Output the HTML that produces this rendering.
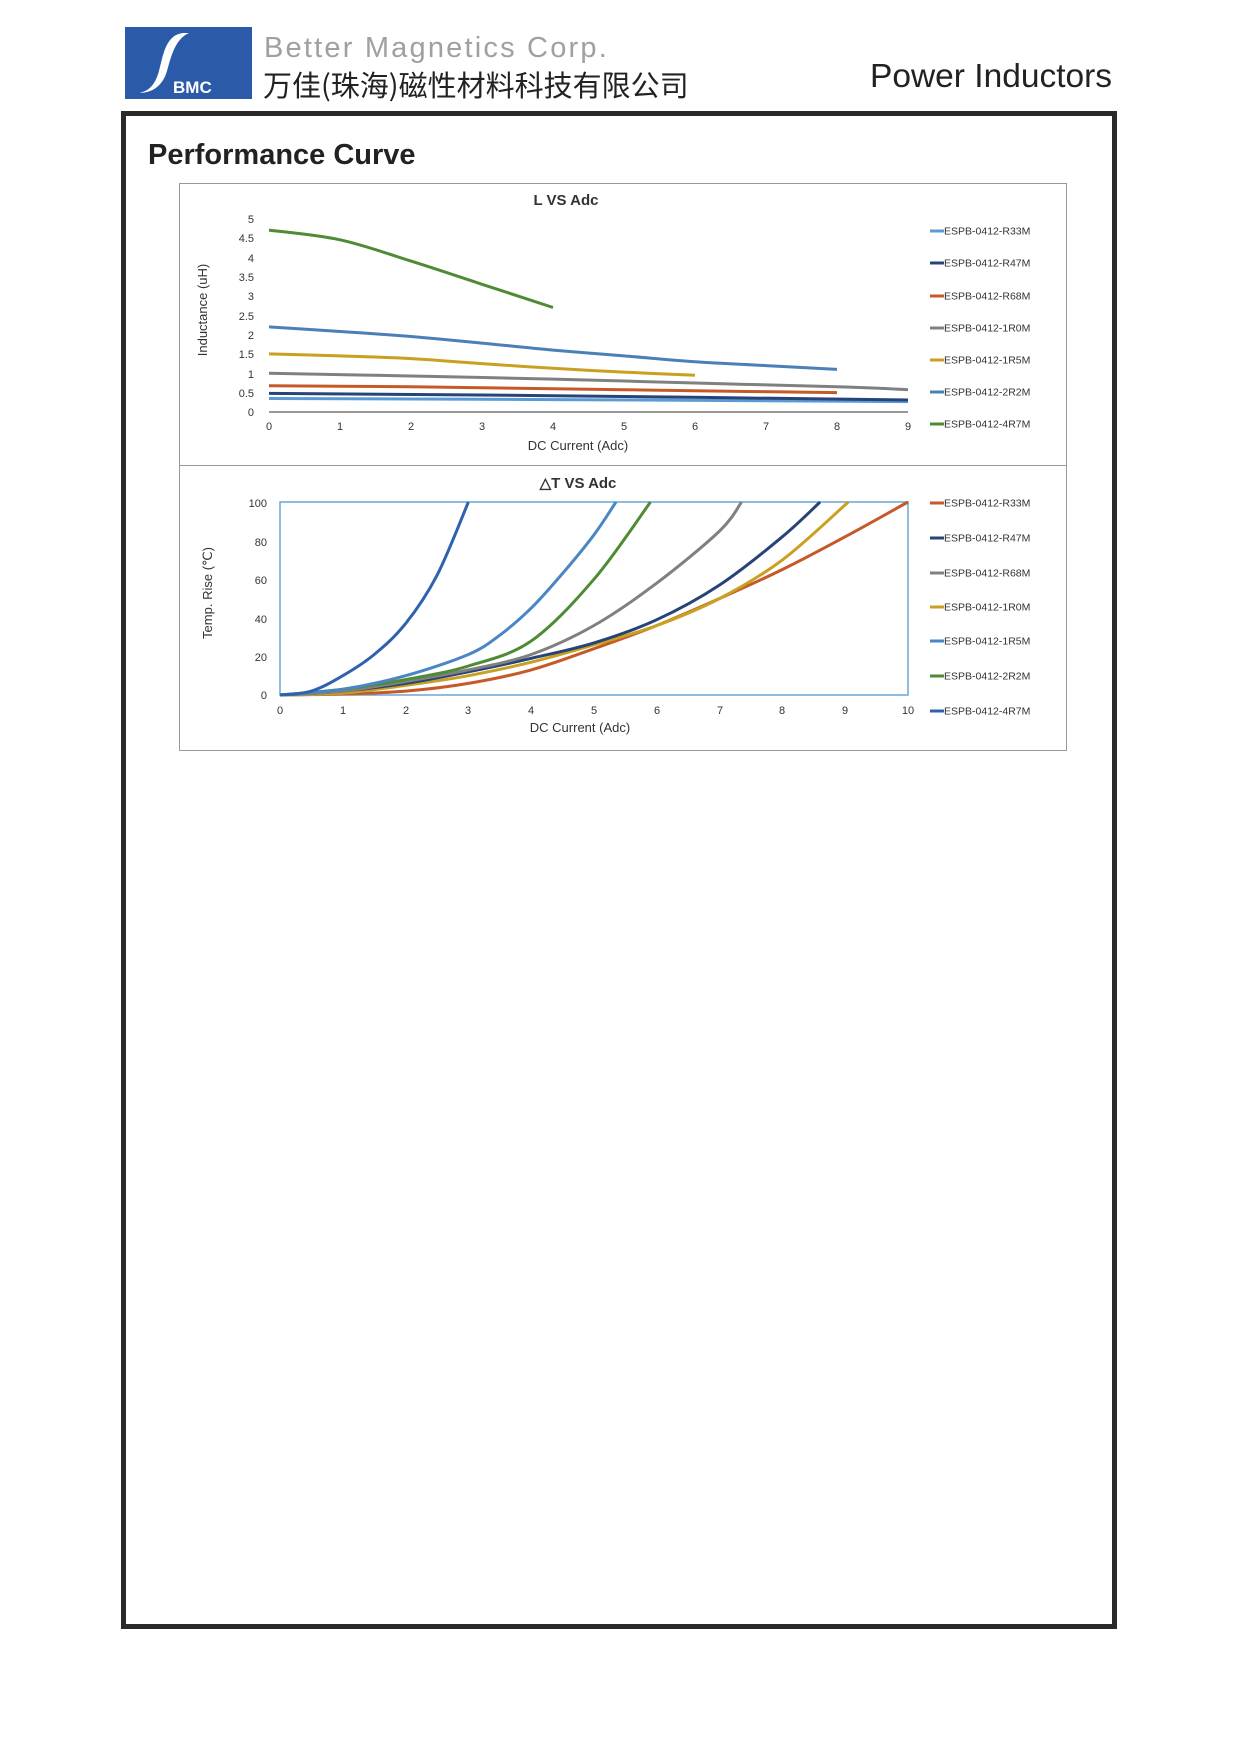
<!DOCTYPE html>
<html><head><meta charset="utf-8"><style>
body{margin:0;width:1241px;height:1755px;background:#fff;position:relative;overflow:hidden;font-family:"Liberation Sans","Noto Sans CJK SC",sans-serif}
.a{position:absolute;white-space:nowrap}
</style></head><body>
<div class="a" style="left:125px;top:27px;width:127px;height:72px;background:#2a5aa8"></div>
<svg class="a" style="left:125px;top:27px" width="127" height="72">
<path d="M58 6 C40 8 38 30 34 44 C30 58 24 64 14 66 C28 66 38 58 42 44 C46 30 50 12 64 6 Z" fill="#fff"/>
<text x="48" y="66" font-family="Liberation Sans" font-weight="bold" font-size="17" fill="#fff">BMC</text>
</svg>
<div class="a" style="left:264px;top:32px;font-size:29px;color:#a0a0a0;letter-spacing:2.2px">Better Magnetics Corp.</div>
<div class="a" style="left:263px;top:63px;font-size:29px;color:#222;font-family:'Noto Sans CJK SC',sans-serif">万佳(珠海)磁性材料科技有限公司</div>
<div class="a" style="left:870px;top:58px;font-size:33.5px;color:#222">Power Inductors</div>
<div class="a" style="left:121px;top:111px;width:986px;height:1508px;border:5px solid #2a2a2a"></div>
<div class="a" style="left:148px;top:139px;font-size:29px;font-weight:bold;color:#222">Performance Curve</div>
<svg class="a" style="left:0;top:0" width="1241" height="1755" font-family="Liberation Sans" fill="#333">
<rect x="179.5" y="183.5" width="887" height="567" fill="none" stroke="#999"/>
<line x1="179" y1="465.5" x2="1067" y2="465.5" stroke="#999"/>
<text x="566" y="205" font-size="15" font-weight="bold" text-anchor="middle">L VS Adc</text>
<g font-size="11" text-anchor="end">
<text x="254" y="223">5</text><text x="254" y="242">4.5</text><text x="254" y="262">4</text><text x="254" y="281">3.5</text><text x="254" y="300">3</text><text x="254" y="320">2.5</text><text x="254" y="339">2</text><text x="254" y="358">1.5</text><text x="254" y="378">1</text><text x="254" y="397">0.5</text><text x="254" y="416">0</text>
</g>
<g font-size="11" text-anchor="middle">
<text x="269" y="430">0</text><text x="340" y="430">1</text><text x="411" y="430">2</text><text x="482" y="430">3</text><text x="553" y="430">4</text><text x="624" y="430">5</text><text x="695" y="430">6</text><text x="766" y="430">7</text><text x="837" y="430">8</text><text x="908" y="430">9</text>
</g>
<text x="578" y="450" font-size="13" text-anchor="middle">DC Current (Adc)</text>
<text transform="translate(207,310) rotate(-90)" font-size="13" text-anchor="middle">Inductance (uH)</text>
<line x1="269" y1="412" x2="908" y2="412" stroke="#999" stroke-width="2"/>
<g id="c1" fill="none" stroke-width="3"></g>
<g font-size="10.5">
<line x1="930" y1="231" x2="944" y2="231" stroke="#5b9bd5" stroke-width="3"/><text x="944" y="234.5">ESPB-0412-R33M</text>
<line x1="930" y1="263" x2="944" y2="263" stroke="#264478" stroke-width="3"/><text x="944" y="266.5">ESPB-0412-R47M</text>
<line x1="930" y1="296" x2="944" y2="296" stroke="#c55a28" stroke-width="3"/><text x="944" y="299.5">ESPB-0412-R68M</text>
<line x1="930" y1="328" x2="944" y2="328" stroke="#808080" stroke-width="3"/><text x="944" y="331.5">ESPB-0412-1R0M</text>
<line x1="930" y1="360" x2="944" y2="360" stroke="#c9a020" stroke-width="3"/><text x="944" y="363.5">ESPB-0412-1R5M</text>
<line x1="930" y1="392" x2="944" y2="392" stroke="#4a7fb8" stroke-width="3"/><text x="944" y="395.5">ESPB-0412-2R2M</text>
<line x1="930" y1="424" x2="944" y2="424" stroke="#4f8a35" stroke-width="3"/><text x="944" y="427.5">ESPB-0412-4R7M</text>
</g>
<text x="578" y="488" font-size="15" font-weight="bold" text-anchor="middle">△T VS Adc</text>
<rect x="280" y="502" width="628" height="193" fill="none" stroke="#6aa6d6" stroke-width="1.5"/>
<g font-size="11" text-anchor="end">
<text x="267" y="507">100</text><text x="267" y="546">80</text><text x="267" y="584">60</text><text x="267" y="623">40</text><text x="267" y="661">20</text><text x="267" y="699">0</text>
</g>
<g font-size="11" text-anchor="middle">
<text x="280" y="714">0</text><text x="343" y="714">1</text><text x="406" y="714">2</text><text x="468" y="714">3</text><text x="531" y="714">4</text><text x="594" y="714">5</text><text x="657" y="714">6</text><text x="720" y="714">7</text><text x="782" y="714">8</text><text x="845" y="714">9</text><text x="908" y="714">10</text>
</g>
<text x="580" y="732" font-size="13" text-anchor="middle">DC Current (Adc)</text>
<text transform="translate(212,593) rotate(-90)" font-size="13" text-anchor="middle">Temp. Rise (℃)</text>
<g id="c2" fill="none" stroke-width="3"></g>
<g font-size="10.5">
<line x1="930" y1="503" x2="944" y2="503" stroke="#c55a28" stroke-width="3"/><text x="944" y="506.5">ESPB-0412-R33M</text>
<line x1="930" y1="538" x2="944" y2="538" stroke="#264478" stroke-width="3"/><text x="944" y="541.5">ESPB-0412-R47M</text>
<line x1="930" y1="573" x2="944" y2="573" stroke="#808080" stroke-width="3"/><text x="944" y="576.5">ESPB-0412-R68M</text>
<line x1="930" y1="607" x2="944" y2="607" stroke="#c9a020" stroke-width="3"/><text x="944" y="610.5">ESPB-0412-1R0M</text>
<line x1="930" y1="641" x2="944" y2="641" stroke="#4a86c5" stroke-width="3"/><text x="944" y="644.5">ESPB-0412-1R5M</text>
<line x1="930" y1="676" x2="944" y2="676" stroke="#4f8a35" stroke-width="3"/><text x="944" y="679.5">ESPB-0412-2R2M</text>
<line x1="930" y1="711" x2="944" y2="711" stroke="#3060b0" stroke-width="3"/><text x="944" y="714.5">ESPB-0412-4R7M</text>
</g>
</svg>
<script>
function cr(p){var d="M"+p[0][0].toFixed(1)+" "+p[0][1].toFixed(1);for(var i=0;i<p.length-1;i++){var p0=p[i?i-1:0],p1=p[i],p2=p[i+1],p3=p[i+2<p.length?i+2:i+1];d+=" C"+(p1[0]+(p2[0]-p0[0])/6).toFixed(1)+" "+(p1[1]+(p2[1]-p0[1])/6).toFixed(1)+" "+(p2[0]-(p3[0]-p1[0])/6).toFixed(1)+" "+(p2[1]-(p3[1]-p1[1])/6).toFixed(1)+" "+p2[0].toFixed(1)+" "+p2[1].toFixed(1);}return d;}
function draw(id,ser,fx,fy){var g=document.getElementById(id),s="";ser.forEach(function(r){var p=r[1].map(function(q){return [fx(q[0]),fy(q[1])]});s+='<path d="'+cr(p)+'" stroke="'+r[0]+'"/>';});g.innerHTML=s;}
draw("c1",[
["#5b9bd5",[[0,.35],[4,.32],[9,.27]]],
["#264478",[[0,.48],[4,.42],[9,.31]]],
["#c55a28",[[0,.68],[2,.65],[4,.6],[6,.55],[8,.5]]],
["#808080",[[0,1],[2,.93],[4,.85],[6,.75],[8,.65],[9,.58]]],
["#c9a020",[[0,1.5],[1,1.45],[2,1.38],[3,1.25],[4,1.13],[5,1.03],[6,.95]]],
["#4a7fb8",[[0,2.2],[1,2.08],[2,1.95],[3,1.78],[4,1.6],[5,1.45],[6,1.3],[7,1.2],[8,1.1]]],
["#4f8a35",[[0,4.7],[1,4.45],[2,3.9],[3,3.3],[4,2.7]]]
],function(x){return 269+x*71},function(y){return 412-y*38.7});
draw("c2",[
["#c55a28",[[0,0],[1,.5],[2,2],[3,6],[4,13],[5,24],[6,36],[7,50],[8,65],[9,82],[10,100]]],
["#c9a020",[[0,0],[1,1],[2,5],[3,10],[4,17],[5,26],[6,36],[7,50],[8,70],[9.05,100]]],
["#264478",[[0,0],[1,2],[2,6],[3,12],[4,19],[5,27],[6,39],[7,57],[8,82],[8.6,100]]],
["#808080",[[0,0],[1,2],[2,7],[3,13],[4,21],[5,36],[6,58],[7,85],[7.35,100]]],
["#4f8a35",[[0,0],[1,3],[2,8],[3,15],[4,28],[5,60],[5.9,100]]],
["#4a86c5",[[0,0],[1,3],[2,10],[3,21],[3.5,31],[4,45],[4.5,63],[5,83],[5.35,100]]],
["#3060b0",[[0,0],[.5,2],[1,10],[1.5,21],[2,37],[2.5,62],[3,100]]]
],function(x){return 280+x*62.8},function(y){return 695-y*1.93});
</script>
</body></html>
